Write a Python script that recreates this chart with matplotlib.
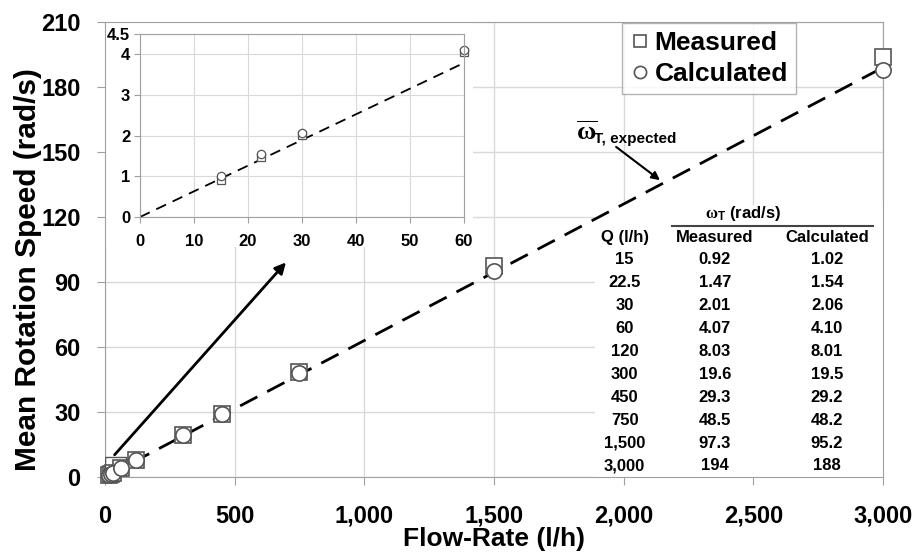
import numpy as np
import matplotlib
matplotlib.use("Agg")
import matplotlib.pyplot as plt
from matplotlib.patches import Rectangle

plt.rcParams['font.family'] = ['Liberation Sans', 'DejaVu Sans']
plt.rcParams['font.weight'] = 'bold'
plt.rcParams['mathtext.fontset'] = 'custom'
plt.rcParams['mathtext.rm'] = 'Liberation Sans:bold'
plt.rcParams['mathtext.it'] = 'Liberation Serif'
plt.rcParams['mathtext.bf'] = 'Liberation Sans:bold'

# data
flow = [15, 22.5, 30, 60, 120, 300, 450, 750, 1500, 3000]
measured = [0.92, 1.47, 2.01, 4.07, 8.03, 19.6, 29.3, 48.5, 97.3, 194]
calculated = [1.02, 1.54, 2.06, 4.10, 8.01, 19.5, 29.2, 48.2, 95.2, 188]
flow_lbl = ['15', '22.5', '30', '60', '120', '300', '450', '750', '1,500', '3,000']
meas_lbl = ['0.92', '1.47', '2.01', '4.07', '8.03', '19.6', '29.3', '48.5', '97.3', '194']
calc_lbl = ['1.02', '1.54', '2.06', '4.10', '8.01', '19.5', '29.2', '48.2', '95.2', '188']

expected_q = [0, 3000]
expected_w = [0, 189]

xticks = [0, 500, 1000, 1500, 2000, 2500, 3000]
xtick_lbl = ['0', '500', '1,000', '1,500', '2,000', '2,500', '3,000']
yticks = [0, 30, 60, 90, 120, 150, 180, 210]

inset_q = [15, 22.5, 30, 60]
inset_meas = measured[:4]
inset_calc = calculated[:4]
inset_exp_q = [0, 60]
inset_exp_w = [0, 3.79]

grid_c = '#d9d9d9'
spine_c = '#a0a0a0'

fig = plt.figure(figsize=(9.16, 5.55), dpi=100)
ax = fig.add_axes([0.1146, 0.1405, 0.8494, 0.8199])
ax.set_axisbelow(True)
ax.set_xlim(0, 3000)
ax.set_ylim(0, 210)
ax.set_xticks(xticks)
ax.set_xticklabels(xtick_lbl)
ax.set_yticks(yticks)
ax.grid(True, color=grid_c, lw=1)
for s in ax.spines.values():
    s.set_color(spine_c)
ax.tick_params(labelsize=17, length=6, color=spine_c)
ax.tick_params(axis='y', pad=11.5)
ax.tick_params(axis='x', pad=14)
ax.set_xlabel('Flow-Rate (l/h)', fontsize=19, fontweight='bold')
ax.set_ylabel('Mean Rotation Speed (rad/s)', fontsize=21.5, fontweight='bold')
ax.xaxis.set_label_coords(0.5, -0.11)
ax.yaxis.set_label_coords(-0.081, 0.455)

# white backgrounds for the inset and the table
ax.add_patch(Rectangle((0, 0.505), 0.473, 0.495, transform=ax.transAxes,
                       facecolor='white', edgecolor='none', zorder=1))
ax.add_patch(Rectangle((0.63, 0), 0.37, 0.598, transform=ax.transAxes,
                       facecolor='white', edgecolor='none', zorder=1))

ax.plot(expected_q, expected_w, color='black', lw=2, dashes=(7, 4), zorder=2)
ax.plot(flow, measured, 's', ms=11, mfc='white', mec='#555555', mew=1.2,
        ls='none', label='Measured', zorder=3, clip_on=False)
ax.plot(flow, calculated, 'o', ms=11, mfc='white', mec='#555555', mew=1.2,
        ls='none', label='Calculated', zorder=4, clip_on=False)

leg = ax.legend(loc='upper left', bbox_to_anchor=(0.664, 0.997), fontsize=19,
                frameon=True, fancybox=False, handletextpad=0.15,
                handlelength=0.8, borderpad=0.3, labelspacing=0.25,
                borderaxespad=0, markerscale=0.8)
leg.get_frame().set_edgecolor(spine_c)
leg.get_frame().set_linewidth(1)
leg.set_zorder(6)

# zoom box and arrow to inset
ax.add_patch(Rectangle((0, 0), 80, 9.3, facecolor='none', edgecolor='#555555',
                       lw=1, zorder=3))
ax.annotate('', xy=(705, 100), xytext=(30, 9.3),
            arrowprops=dict(arrowstyle='-|>', color='black', lw=2, mutation_scale=16),
            zorder=5)

# expected-line annotation
ax.annotate(r'$\overline{\omega}$', xy=(2140, 137), xytext=(1815, 159),
            fontsize=19, va='center', ha='left',
            arrowprops=dict(arrowstyle='-|>', color='black', lw=1.5,
                            mutation_scale=12, shrinkA=0, shrinkB=0,
                            relpos=(1.9, -0.1)))
ax.text(1885, 156, 'T, expected', fontsize=11, fontweight='bold',
        va='center', ha='left')

# table
colx = [0.668, 0.784, 0.928]
ax.text(0.820, 0.580, r'$\omega_{\mathrm{T}}$ (rad/s)', transform=ax.transAxes,
        ha='center', va='center', fontsize=12, fontweight='bold', zorder=6)
ax.plot([0.729, 0.987], [0.552, 0.552], transform=ax.transAxes, color='#444444',
        lw=1.5, zorder=6)
for x, h in zip(colx, ['Q (l/h)', 'Measured', 'Calculated']):
    ax.text(x, 0.527, h, transform=ax.transAxes, ha='center', va='center',
            fontsize=12, fontweight='bold', zorder=6)
for i in range(len(flow_lbl)):
    y = 0.477 - i * 0.0503
    for x, t in zip(colx, [flow_lbl[i], meas_lbl[i], calc_lbl[i]]):
        ax.text(x, y, t, transform=ax.transAxes, ha='center', va='center',
                fontsize=12, fontweight='bold', zorder=6)

# inset
ins = fig.add_axes([0.1528, 0.609, 0.3538, 0.3297])
ins.set_axisbelow(True)
ins.set_xlim(0, 60)
ins.set_ylim(0, 4.5)
ins.set_xticks([0, 10, 20, 30, 40, 50, 60])
ins.set_yticks([0, 1, 2, 3, 4, 4.5])
ins.set_yticklabels(['0', '1', '2', '3', '4', '4.5'])
ins.get_yticklabels()[-1].set_fontsize(9)
ins.grid(True, color=grid_c, lw=0.8)
for s in ins.spines.values():
    s.set_color(spine_c)
ins.tick_params(labelsize=12, length=4, color=spine_c, pad=3)
ins.tick_params(axis='x', pad=8)
ins.plot(inset_exp_q, inset_exp_w, color='black', lw=1.3, dashes=(6, 4), zorder=2)
ins.plot(inset_q, inset_meas, 's', ms=6, mfc='white', mec='#555555', mew=0.9,
         zorder=3, clip_on=False)
ins.plot(inset_q, inset_calc, 'o', ms=6, mfc='white', mec='#555555', mew=0.9,
         zorder=4, clip_on=False)
for s in ins.spines.values():
    s.set_zorder(5)

fig.savefig('out.png', dpi=100)
